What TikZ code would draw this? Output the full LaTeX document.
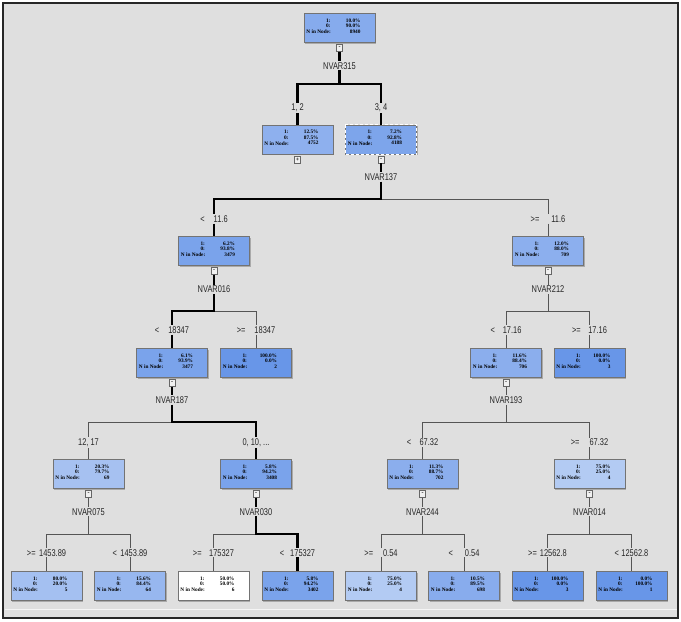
\documentclass[tikz,border=0pt]{standalone}
\usepackage{fontspec}
\newfontfamily\labfont[FakeStretch=0.76]{Liberation Sans}
\newfontfamily\boxfont{Liberation Serif}
\usetikzlibrary{shadows}
\definecolor{bg}{HTML}{DFDFDF}
\definecolor{nodebase}{RGB}{104,150,232}
\definecolor{linec}{HTML}{555555}
\definecolor{txt}{HTML}{262626}
\tikzset{
  treebox/.style={rectangle, minimum width=71pt, minimum height=29pt, inner sep=0pt,
    draw=black!55, line width=0.6pt,
    drop shadow={shadow xshift=1pt, shadow yshift=-1pt, opacity=0.55}},
  selbox/.style={draw=white, line width=1.3pt, dash pattern=on 3pt off 2pt},
  boxtxt/.style={font=\boxfont\bfseries\fontsize{5.3}{5.3}\selectfont, text=black, inner sep=0pt},
  togst/.style={rectangle, minimum width=6pt, minimum height=7pt, inner sep=0pt,
    draw=black!60, line width=0.5pt, fill=white!94!black,
    font=\boxfont\bfseries\fontsize{6}{6}\selectfont},
  splitlab/.style={font=\labfont\fontsize{9.8}{10}\selectfont, text=txt, fill=bg, inner sep=1pt},
  brlab/.style={font=\labfont\fontsize{9.8}{10}\selectfont, text=txt, fill=bg, inner sep=1pt},
  hot/.style={draw=black, line width=2.6pt},
  cold/.style={draw=linec, line width=0.8pt},
}
\newcommand\tbox[7]{%
  \node[treebox, fill=nodebase!#7!white] (#1) at (#2,#3) {};
  \node[boxtxt, anchor=east] at ([xshift=27pt,yshift=-7.5pt]#1.north west) {1:};
  \node[boxtxt, anchor=east] at ([xshift=57pt,yshift=-7.5pt]#1.north west) {#4};
  \node[boxtxt, anchor=east] at ([xshift=27pt,yshift=-13pt]#1.north west) {0:};
  \node[boxtxt, anchor=east] at ([xshift=57pt,yshift=-13pt]#1.north west) {#5};
  \node[boxtxt, anchor=west] at ([xshift=2.5pt,yshift=-18.5pt]#1.north west) {N in Node:};
  \node[boxtxt, anchor=east] at ([xshift=57pt,yshift=-18.5pt]#1.north west) {#6};
}
\newcommand\ttog[3]{\node[togst, anchor=north] (#1) at ([yshift=-1.5pt]#2.south) {#3};}
\newcommand\br[3]{#1\hspace{#2pt}#3}
\begin{document}
\begin{tikzpicture}[x=1pt,y=-1pt]
\useasboundingbox (0,0) rectangle (681,622);
\fill[white] (0,0) rectangle (681,622);
\draw[fill=bg, draw=black!85, line width=2.6pt] (3,3) rectangle (678,618);
\draw[white!70!bg, line width=0.8pt] (4.5,609.5) -- (676.5,609.5);

% boxes
\tbox{b0}{339.5}{28}{10.0\%}{90.0\%}{8940}{80}
\ttog{t0}{b0}{-}
\tbox{b12}{297.5}{139.5}{12.5\%}{87.5\%}{4752}{75}
\ttog{t12}{b12}{+}
\tbox{b34}{381}{139.5}{7.2\%}{92.8\%}{4188}{86}
\draw[selbox] (b34.north west) rectangle (b34.south east);
\ttog{t34}{b34}{-}
\tbox{bA}{214}{251}{6.2\%}{93.8\%}{3479}{88}
\ttog{tA}{bA}{-}
\tbox{bB}{548}{251}{12.0\%}{88.0\%}{709}{76}
\ttog{tB}{bB}{-}
\tbox{bA1}{172}{363}{6.1\%}{93.9\%}{3477}{88}
\ttog{tA1}{bA1}{-}
\tbox{bA2}{256}{363}{100.0\%}{0.0\%}{2}{100}
\tbox{bB1}{506}{363}{11.6\%}{88.4\%}{706}{77}
\ttog{tB1}{bB1}{-}
\tbox{bB2}{589.5}{363}{100.0\%}{0.0\%}{3}{100}
\tbox{bC1}{88.5}{474}{20.3\%}{79.7\%}{69}{59}
\ttog{tC1}{bC1}{-}
\tbox{bC2}{256}{474}{5.8\%}{94.2\%}{3408}{88}
\ttog{tC2}{bC2}{-}
\tbox{bD1}{422.5}{474}{11.3\%}{88.7\%}{702}{77}
\ttog{tD1}{bD1}{-}
\tbox{bD2}{589.5}{474}{75.0\%}{25.0\%}{4}{50}
\ttog{tD2}{bD2}{-}
\tbox{bE1}{46.5}{586}{80.0\%}{20.0\%}{5}{60}
\tbox{bE2}{130}{586}{15.6\%}{84.4\%}{64}{69}
\tbox{bE3}{213.5}{586}{50.0\%}{50.0\%}{6}{0}
\tbox{bE4}{297.5}{586}{5.8\%}{94.2\%}{3402}{88}
\tbox{bE5}{381}{586}{75.0\%}{25.0\%}{4}{50}
\tbox{bE6}{464}{586}{10.5\%}{89.5\%}{698}{79}
\tbox{bE7}{547.5}{586}{100.0\%}{0.0\%}{3}{100}
\tbox{bE8}{631.5}{586}{0.0\%}{100.0\%}{1}{100}

% split labels
\node[splitlab] (s315) at (339.5,65.7) {NVAR315};
\node[splitlab] (s137) at (381,177) {NVAR137};
\node[splitlab] (sA) at (214,289.5) {NVAR016};
\node[splitlab] (sB) at (548,289.5) {NVAR212};
\node[splitlab] (sA1) at (172,400) {NVAR187};
\node[splitlab] (sB1) at (506,400) {NVAR193};
\node[splitlab] (sC1) at (88.5,511.7) {NVAR075};
\node[splitlab] (sC2) at (256,511.7) {NVAR030};
\node[splitlab] (sD1) at (422.5,511.7) {NVAR244};
\node[splitlab] (sD2) at (589.5,511.7) {NVAR014};

% junctions
\coordinate (j315) at (339.5,84);
\coordinate (j137) at (381,199);
\coordinate (jA) at (214,311);
\coordinate (jB) at (548,311);
\coordinate (jA1) at (172,422);
\coordinate (jB1) at (506,422);
\coordinate (jC1) at (88.5,534);
\coordinate (jC2) at (256,534);
\coordinate (jD1) at (422.5,534);
\coordinate (jD2) at (589.5,534);

% branch labels
\node[brlab] (l12) at (297.5,108) {1, 2};
\node[brlab] (l34) at (381,108) {3, 4};
\node[brlab] (lA) at (214,219) {\br{<}{9}{11.6}};
\node[brlab] (lB) at (548,219) {\br{>=}{12}{11.6}};
\node[brlab] (lA1) at (172,330) {\br{<}{9}{18347}};
\node[brlab] (lA2) at (256,330) {\br{>=}{9}{18347}};
\node[brlab] (lB1) at (506,330) {\br{<}{8}{17.16}};
\node[brlab] (lB2) at (589.5,330) {\br{>=}{7.5}{17.16}};
\node[brlab] (lC1) at (88.5,442.5) {12, 17};
\node[brlab] (lC2) at (256,442.5) {0, 10, ...};
\node[brlab] (lD1) at (422.5,442.5) {\br{<}{8.5}{67.32}};
\node[brlab] (lD2) at (589.5,442.5) {\br{>=}{10}{67.32}};
\node[brlab] (lE1) at (46.5,552.7) {\br{>=}{3.5}{1453.89}};
\node[brlab] (lE2) at (130,552.7) {\br{<}{3.5}{1453.89}};
\node[brlab] (lE3) at (213.5,552.7) {\br{>=}{7.5}{175327}};
\node[brlab] (lE4) at (297.5,552.7) {\br{<}{6}{175327}};
\node[brlab] (lE5) at (381,552.7) {\br{>=}{10}{0.54}};
\node[brlab] (lE6) at (464,552.7) {\br{<}{12}{0.54}};
\node[brlab] (lE7) at (547.5,552.7) {\br{>=}{3}{12562.8}};
\node[brlab] (lE8) at (631.5,552.7) {\br{<}{2.5}{12562.8}};

% connectors
\draw[hot] (t0) -- (s315);
\draw[hot] (s315) -- (j315) -| (l12);
\draw[hot] (s315) -- (j315) -| (l34);
\draw[hot] (l12) -- (b12);
\draw[hot] (l34) -- (b34);

\draw[hot] (t34) -- (s137);
\draw[cold] (j137) -| (lB);
\draw[hot] (s137) -- (j137) -| (lA);
\draw[hot] (lA) -- (bA);
\draw[cold] (lB) -- (bB);

\draw[hot] (tA) -- (sA);
\draw[cold] (jA) -| (lA2);
\draw[hot] (sA) -- (jA) -| (lA1);
\draw[hot] (lA1) -- (bA1);
\draw[cold] (lA2) -- (bA2);

\draw[cold] (tB) -- (sB);
\draw[cold] (sB) -- (jB) -| (lB1);
\draw[cold] (jB) -| (lB2);
\draw[cold] (lB1) -- (bB1);
\draw[cold] (lB2) -- (bB2);

\draw[hot] (tA1) -- (sA1);
\draw[cold] (jA1) -| (lC1);
\draw[hot] (sA1) -- (jA1) -| (lC2);
\draw[cold] (lC1) -- (bC1);
\draw[hot] (lC2) -- (bC2);

\draw[cold] (tB1) -- (sB1);
\draw[cold] (sB1) -- (jB1) -| (lD1);
\draw[cold] (jB1) -| (lD2);
\draw[cold] (lD1) -- (bD1);
\draw[cold] (lD2) -- (bD2);

\draw[cold] (tC1) -- (sC1);
\draw[cold] (sC1) -- (jC1) -| (lE1);
\draw[cold] (jC1) -| (lE2);
\draw[cold] (lE1) -- (bE1);
\draw[cold] (lE2) -- (bE2);

\draw[hot] (tC2) -- (sC2);
\draw[cold] (jC2) -| (lE3);
\draw[hot] (sC2) -- (jC2) -| (lE4);
\draw[cold] (lE3) -- (bE3);
\draw[hot] (lE4) -- (bE4);

\draw[cold] (tD1) -- (sD1);
\draw[cold] (sD1) -- (jD1) -| (lE5);
\draw[cold] (jD1) -| (lE6);
\draw[cold] (lE5) -- (bE5);
\draw[cold] (lE6) -- (bE6);

\draw[cold] (tD2) -- (sD2);
\draw[cold] (sD2) -- (jD2) -| (lE7);
\draw[cold] (jD2) -| (lE8);
\draw[cold] (lE7) -- (bE7);
\draw[cold] (lE8) -- (bE8);
\end{tikzpicture}
\end{document}
